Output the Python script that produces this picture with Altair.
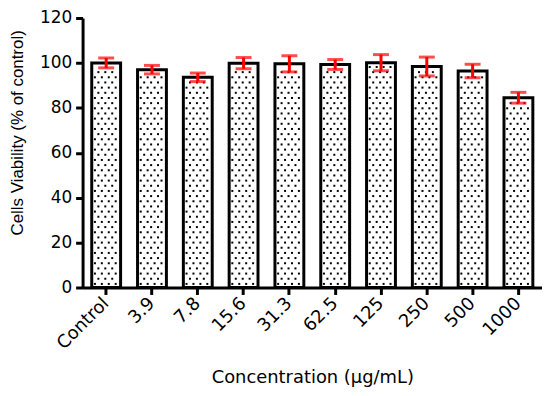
import altair as alt
import pandas as pd

categories = ["Control", "3.9", "7.8", "15.6", "31.3", "62.5", "125", "250", "500", "1000"]
means = [100.0, 97.0, 93.6, 99.9, 99.6, 99.3, 100.1, 98.4, 96.4, 84.5]
errors = [2.2, 1.9, 1.9, 2.5, 3.6, 2.2, 3.6, 4.2, 3.0, 2.4]

df = pd.DataFrame({"cat": categories, "mean": means, "err": errors})
df["lo"] = df["mean"] - df["err"]
df["hi"] = df["mean"] + df["err"]

xscale = alt.Scale(paddingInner=0.37, paddingOuter=0.2)
xaxis = alt.Axis(
    title="Concentration (µg/mL)",
    labelAngle=-45, labelAlign="right", labelBaseline="middle",
    labelFont="DejaVu Sans", labelFontSize=18, labelColor="black", labelPadding=6,
    tickSize=7, tickWidth=3, tickColor="black",
    domainWidth=3, domainColor="black",
    titleFont="DejaVu Sans", titleFontSize=18, titleFontWeight="normal", titleColor="black",
    titleX=231, titleY=96, titleAlign="center", titleBaseline="alphabetic",
)
yaxis = alt.Axis(
    title="Cells Viability (% of control)",
    values=[0, 20, 40, 60, 80, 100, 120], grid=False,
    labelFont="DejaVu Sans", labelFontSize=17, labelColor="black", labelPadding=4,
    tickSize=7, tickWidth=3, tickColor="black",
    domainWidth=3, domainColor="black",
    titleFont="Liberation Sans", titleFontSize=17, titleFontWeight="normal", titleColor="black",
    titleAngle=270, titleX=-73, titleY=115, titleAlign="center", titleBaseline="top",
)

x = alt.X("cat:N", sort=categories, scale=xscale, axis=xaxis)
yscale = alt.Scale(domain=[0, 120], nice=False)

bars = alt.Chart(df).mark_bar(fill="white", stroke="black", strokeWidth=3).encode(
    x=x, y=alt.Y("mean:Q", scale=yscale, axis=yaxis)
)

# dotted texture inside each bar (staggered rows)
row_base = (
    alt.Chart(df)
    .transform_calculate(ri="sequence(0, floor((datum.mean - 3.5) / 2.3) + 1)")
    .transform_flatten(["ri"])
    .transform_calculate(dy="1.6 + datum.ri * 2.3", par="datum.ri % 2")
)
dot_layers = []
for parity, offsets in [(0, [0.11, 0.35, 0.59, 0.83]), (1, [0.23, 0.47, 0.71])]:
    for off in offsets:
        dot_layers.append(
            row_base.transform_filter(f"datum.par == {parity}")
            .mark_square(size=4, color="black", opacity=1)
            .encode(
                x=alt.X("cat:N", sort=categories, scale=xscale, axis=xaxis, bandPosition=off),
                y=alt.Y("dy:Q", scale=yscale, axis=yaxis),
            )
        )

rules = alt.Chart(df).mark_rule(color="#ff0000", strokeWidth=3).encode(
    x=x, y=alt.Y("lo:Q", scale=yscale, axis=yaxis), y2="hi:Q"
)
cap_hi = alt.Chart(df).mark_tick(color="#ff0000", size=16, thickness=3).encode(
    x=x, y=alt.Y("hi:Q", scale=yscale, axis=yaxis)
)
cap_lo = alt.Chart(df).mark_tick(color="#ff0000", size=16, thickness=3).encode(
    x=x, y=alt.Y("lo:Q", scale=yscale, axis=yaxis)
)

chart = (
    alt.layer(bars, *dot_layers, rules, cap_hi, cap_lo)
    .properties(
        width=462, height=271,
        autosize=alt.AutoSizeParams(type="none"),
        padding={"left": 75, "top": 9, "right": 0, "bottom": 100},
        background="white",
    )
    .configure_view(stroke=None)
)

chart.save("out.html", embed_options={"renderer": "svg", "actions": False})
